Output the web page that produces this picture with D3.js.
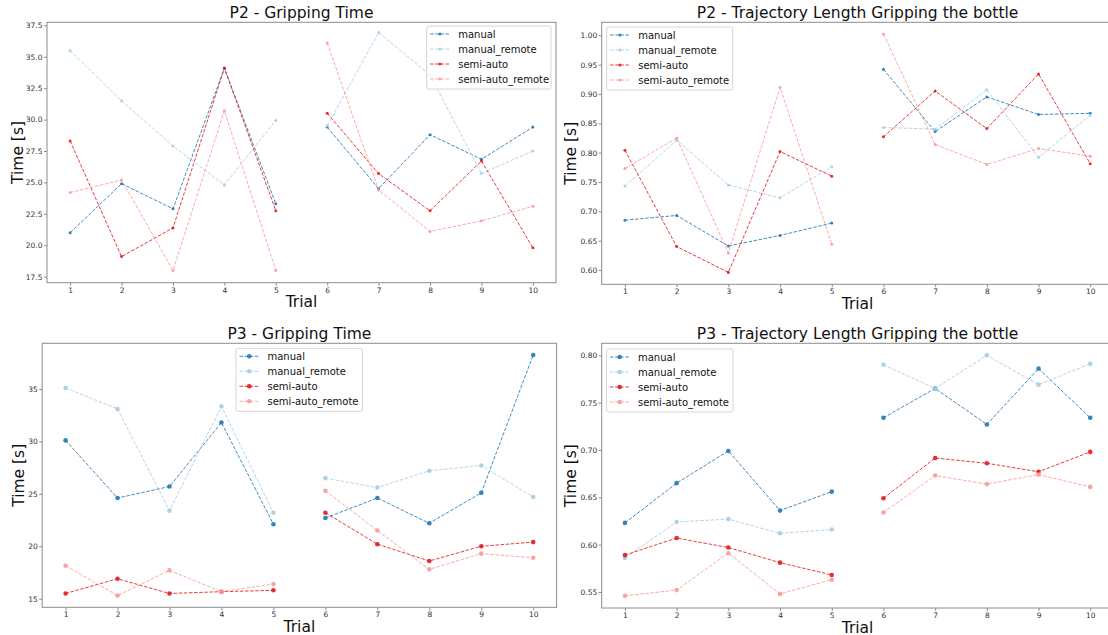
<!DOCTYPE html>
<html><head><meta charset="utf-8">
<script src="https://cdn.jsdelivr.net/npm/d3@7"></script>
<style>body{margin:0;background:#fff} text{font-family:"DejaVu Sans",sans-serif}</style>
</head><body><svg id="c" width="1108" height="635"></svg>
<script>
const trials = [1,2,3,4,5,6,7,8,9,10];
const seriesNames = ["manual","manual_remote","semi-auto","semi-auto_remote"];
const seriesColors = ["#1f78b4","#a6cee3","#e31a1c","#fb9a99"];

// P2 - Gripping Time
const p2GripManual       = [21.0,24.9,22.9,34.08,23.3, 29.4,24.5,28.8,26.84,29.4];
const p2GripManualRemote = [35.48,31.5,27.9,24.8,29.92, 29.5,36.92,33.55,25.7,27.5];
const p2GripSemi         = [28.3,19.1,21.38,34.1,22.74, 30.5,25.7,22.74,26.7,19.8];
const p2GripSemiRemote   = [24.2,25.19,18.0,30.7,18.0, 36.1,24.4,21.1,21.94,23.1];
// P2 - Trajectory Length
const p2TrajManual       = [0.685,0.693,0.641,0.659,0.680, 0.942,0.836,0.895,0.865,0.867];
const p2TrajManualRemote = [0.743,0.821,0.745,0.723,0.776, 0.843,0.840,0.907,0.792,0.864];
const p2TrajSemi         = [0.804,0.640,0.596,0.802,0.760, 0.827,0.905,0.841,0.934,0.781];
const p2TrajSemiRemote   = [0.773,0.825,0.629,0.911,0.644, 1.002,0.814,0.780,0.807,0.794];
// P3 - Gripping Time
const p3GripManual       = [30.1,24.6,25.7,31.8,22.1, 22.7,24.6,22.2,25.1,38.25];
const p3GripManualRemote = [35.1,33.1,23.4,33.35,23.2, 26.5,25.6,27.2,27.7,24.7];
const p3GripSemi         = [15.5,16.9,15.5,15.67,15.8, 23.2,20.2,18.6,20.0,20.4];
const p3GripSemiRemote   = [18.15,15.3,17.7,15.67,16.4, 25.3,21.5,17.8,19.3,18.9];
// P3 - Trajectory Length
const p3TrajManual       = [0.623,0.665,0.699,0.636,0.656, 0.734,0.765,0.727,0.786,0.734];
const p3TrajManualRemote = [0.586,0.624,0.627,0.612,0.616, 0.790,0.765,0.800,0.769,0.791];
const p3TrajSemi         = [0.589,0.607,0.597,0.581,0.568, 0.649,0.6915,0.686,0.677,0.698];
const p3TrajSemiRemote   = [0.546,0.552,0.591,0.548,0.563, 0.634,0.673,0.664,0.674,0.661];

const p2GripTicks = [17.5,20.0,22.5,25.0,27.5,30.0,32.5,35.0,37.5];
const p2TrajTicks = [0.60,0.65,0.70,0.75,0.80,0.85,0.90,0.95,1.00];
const p3GripTicks = [15,20,25,30,35];
const p3TrajTicks = [0.55,0.60,0.65,0.70,0.75,0.80];
const segments = [[0,5],[5,10]];

const panels = [
  {title:"P2 - Gripping Time", data:[p2GripManual,p2GripManualRemote,p2GripSemi,p2GripSemiRemote],
   ticks:p2GripTicks, fmt:".1f", box:[47,556,22.3,282.7], yDomain:[17.02,37.74], legend:[426.7,26,124.3,63], r:1.5, ylx:17},
  {title:"P2 - Trajectory Length Gripping the bottle", data:[p2TrajManual,p2TrajManualRemote,p2TrajSemi,p2TrajSemiRemote],
   ticks:p2TrajTicks, fmt:".2f", box:[601.7,1113.5,22.3,284.3], yDomain:[0.5757,1.0221], legend:[606.7,27,126,63], r:1.5, ylx:570.5},
  {title:"P3 - Gripping Time", data:[p3GripManual,p3GripManualRemote,p3GripSemi,p3GripSemiRemote],
   ticks:p3GripTicks, fmt:"d", box:[42.2,556.6,343.3,607.3], yDomain:[14.18,39.36], legend:[236,348.3,126.5,63], r:2.3, ylx:18.8},
  {title:"P3 - Trajectory Length Gripping the bottle", data:[p3TrajManual,p3TrajManualRemote,p3TrajSemi,p3TrajSemiRemote],
   ticks:p3TrajTicks, fmt:".2f", box:[601.7,1113.5,343.3,608], yDomain:[0.5331,0.8127], legend:[606.5,349,126.5,63], r:2.3, ylx:570.5}
];

const svg = d3.select("#c");
const frameColor = "#8c8c8c";

panels.forEach(p => {
  const [x0,x1,y0,y1] = p.box;
  const x = d3.scaleLinear().domain([0.55,10.45]).range([x0,x1]);
  const y = d3.scaleLinear().domain(p.yDomain).range([y1,y0]);
  const g = svg.append("g");

  // frame
  g.append("rect").attr("x",x0).attr("y",y0).attr("width",x1-x0).attr("height",y1-y0)
    .attr("fill","none").attr("stroke",frameColor).attr("stroke-width",1);

  // axes
  const xa = g.append("g").attr("transform",`translate(0,${y1})`)
    .call(d3.axisBottom(x).tickValues(trials).tickFormat(d3.format("d")).tickSize(3).tickPadding(1.5));
  const ya = g.append("g").attr("transform",`translate(${x0},0)`)
    .call(d3.axisLeft(y).tickValues(p.ticks).tickFormat(d3.format(p.fmt)).tickSize(3).tickPadding(1.5));
  [xa,ya].forEach(a => {
    a.select(".domain").remove();
    a.selectAll(".tick line").attr("stroke",frameColor);
    a.selectAll(".tick text").attr("fill","#333").style("font-size","7.5px").style("font-family","DejaVu Sans");
  });

  // title & labels
  const cx = (x0+x1)/2, cy = (y0+y1)/2;
  g.append("text").attr("x",cx).attr("y",y0-4).attr("text-anchor","middle")
    .style("font-size","15.5px").attr("fill","#111").text(p.title);
  g.append("text").attr("x",cx).attr("y",y1+24.5).attr("text-anchor","middle")
    .style("font-size","15.5px").attr("fill","#111").text("Trial");
  g.append("text").attr("transform",`translate(${p.ylx+5.5},${cy}) rotate(-90)`).attr("text-anchor","middle")
    .style("font-size","15.5px").attr("fill","#111").text("Time [s]");

  // series
  const line = d3.line().x(d => x(d[0])).y(d => y(d[1]));
  p.data.forEach((vals, si) => {
    const pts = trials.map((t,i) => [t, vals[i]]);
    segments.forEach(([a,b]) => {
      g.append("path").attr("d", line(pts.slice(a,b))).attr("fill","none")
        .attr("stroke",seriesColors[si]).attr("stroke-width",1).attr("stroke-dasharray","3.5,1.6")
        .attr("opacity",0.85);
    });
    g.selectAll(null).data(pts).enter().append("circle")
      .attr("cx",d => x(d[0])).attr("cy",d => y(d[1])).attr("r",p.r)
      .attr("fill",seriesColors[si]).attr("opacity",0.9);
  });

  // legend
  const [lx,ly,lw,lh] = p.legend;
  const lg = g.append("g");
  lg.append("rect").attr("x",lx).attr("y",ly).attr("width",lw).attr("height",lh).attr("rx",2)
    .attr("fill","#fff").attr("fill-opacity",0.8).attr("stroke","#d6d6d6").attr("stroke-width",1);
  seriesNames.forEach((n,i) => {
    const ry = ly + 8 + i*15;
    lg.append("line").attr("x1",lx+3.5).attr("x2",lx+23).attr("y1",ry).attr("y2",ry)
      .attr("stroke",seriesColors[i]).attr("stroke-width",1).attr("stroke-dasharray","3.5,1.6").attr("opacity",0.85);
    lg.append("circle").attr("cx",lx+13.2).attr("cy",ry).attr("r",p.r).attr("fill",seriesColors[i]).attr("opacity",0.9);
    lg.append("text").attr("x",lx+31.5).attr("y",ry).attr("dy","0.35em")
      .style("font-size","10px").attr("fill","#111").text(n);
  });
});
</script>
</body></html>
